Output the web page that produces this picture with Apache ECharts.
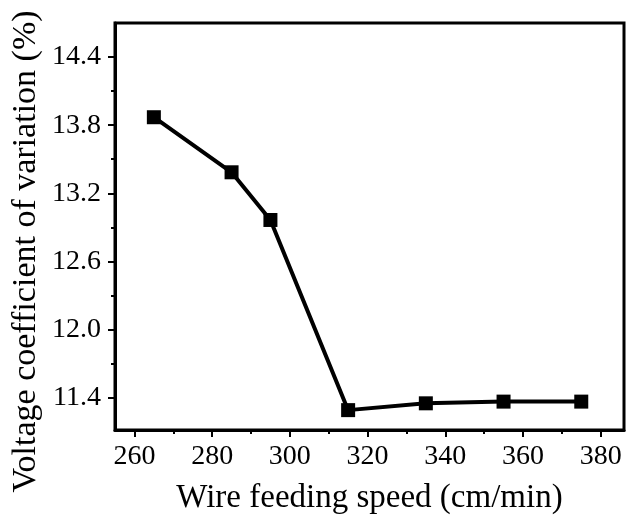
<!DOCTYPE html>
<html>
<head>
<meta charset="utf-8">
<script src="https://cdn.jsdelivr.net/npm/echarts@6/dist/echarts.min.js"></script>
<style>html,body{margin:0;padding:0;background:#fff}#c{width:628px;height:515px}</style>
</head>
<body>
<div id="c"></div>
<script>
var speeds = [265, 285, 295, 315, 335, 355, 375];
var cvValues = [13.87, 13.385, 12.965, 11.29, 11.35, 11.365, 11.365];
var xMajorTicks = [260, 280, 300, 320, 340, 360, 380];
var xMinorTicks = [270, 290, 310, 330, 350, 370];
var yMajorTicks = [11.4, 12.0, 12.6, 13.2, 13.8, 14.4];
var yMinorTicks = [11.7, 12.3, 12.9, 13.5, 14.1];
var xTitle = 'Wire feeding speed (cm/min)';
var yTitle = 'Voltage coefficient of variation (%)';

var FONT = "'Liberation Serif','Times New Roman',serif";
var xMin = 255, xMax = 386, yMin = 11.115, yMax = 14.7;

var chart = echarts.init(document.getElementById('c'), null, {renderer: 'canvas'});
var axisLineStyle = {color: '#000', width: 3};
chart.setOption({
  animation: false,
  backgroundColor: '#fff',
  grid: {left: 115, right: 4, top: 23, bottom: 85, outerBoundsMode: 'none', containLabel: false,
    show: true, borderColor: '#000', borderWidth: 3, backgroundColor: 'transparent'},
  xAxis: [{
    type: 'value', min: xMin, max: xMax, position: 'bottom',
    axisLine: {show: true, lineStyle: axisLineStyle},
    axisTick: {show: true, inside: false, length: 7, lineStyle: {color: '#000', width: 2}, customValues: xMajorTicks},
    axisLabel: {show: true, customValues: xMajorTicks, color: '#000', fontFamily: FONT, fontSize: 28, margin: 13},
    splitLine: {show: false},
    name: xTitle, nameLocation: 'middle', nameGap: 52,
    nameTextStyle: {color: '#000', fontFamily: FONT, fontSize: 33}
  }, {
    type: 'value', min: xMin, max: xMax, position: 'bottom',
    axisLine: {show: false},
    axisTick: {show: true, inside: false, length: 4, lineStyle: {color: '#000', width: 2}, customValues: xMinorTicks},
    axisLabel: {show: false},
    splitLine: {show: false}
  }],
  yAxis: [{
    type: 'value', min: yMin, max: yMax, position: 'left',
    axisLine: {show: true, lineStyle: axisLineStyle},
    axisTick: {show: true, inside: false, length: 7, lineStyle: {color: '#000', width: 2}, customValues: yMajorTicks},
    axisLabel: {show: true, customValues: yMajorTicks, color: '#000', fontFamily: FONT, fontSize: 28, margin: 14,
      formatter: function (v) { return v.toFixed(1); }},
    splitLine: {show: false}
  }, {
    type: 'value', min: yMin, max: yMax, position: 'left',
    axisLine: {show: false},
    axisTick: {show: true, inside: false, length: 4, lineStyle: {color: '#000', width: 2}, customValues: yMinorTicks},
    axisLabel: {show: false},
    splitLine: {show: false}
  }],
  graphic: [{
    type: 'text',
    x: 26, y: 251.5,
    rotation: Math.PI / 2,
    style: {text: yTitle, fill: '#000', font: '34px ' + FONT, textAlign: 'center', textVerticalAlign: 'middle'}
  }],
  series: [{
    type: 'line',
    xAxisIndex: 0, yAxisIndex: 0,
    data: speeds.map(function (s, i) { return [s, cvValues[i]]; }),
    symbol: 'rect', symbolSize: 14,
    lineStyle: {color: '#000', width: 4},
    itemStyle: {color: '#000'}
  }]
});
</script>
</body>
</html>
